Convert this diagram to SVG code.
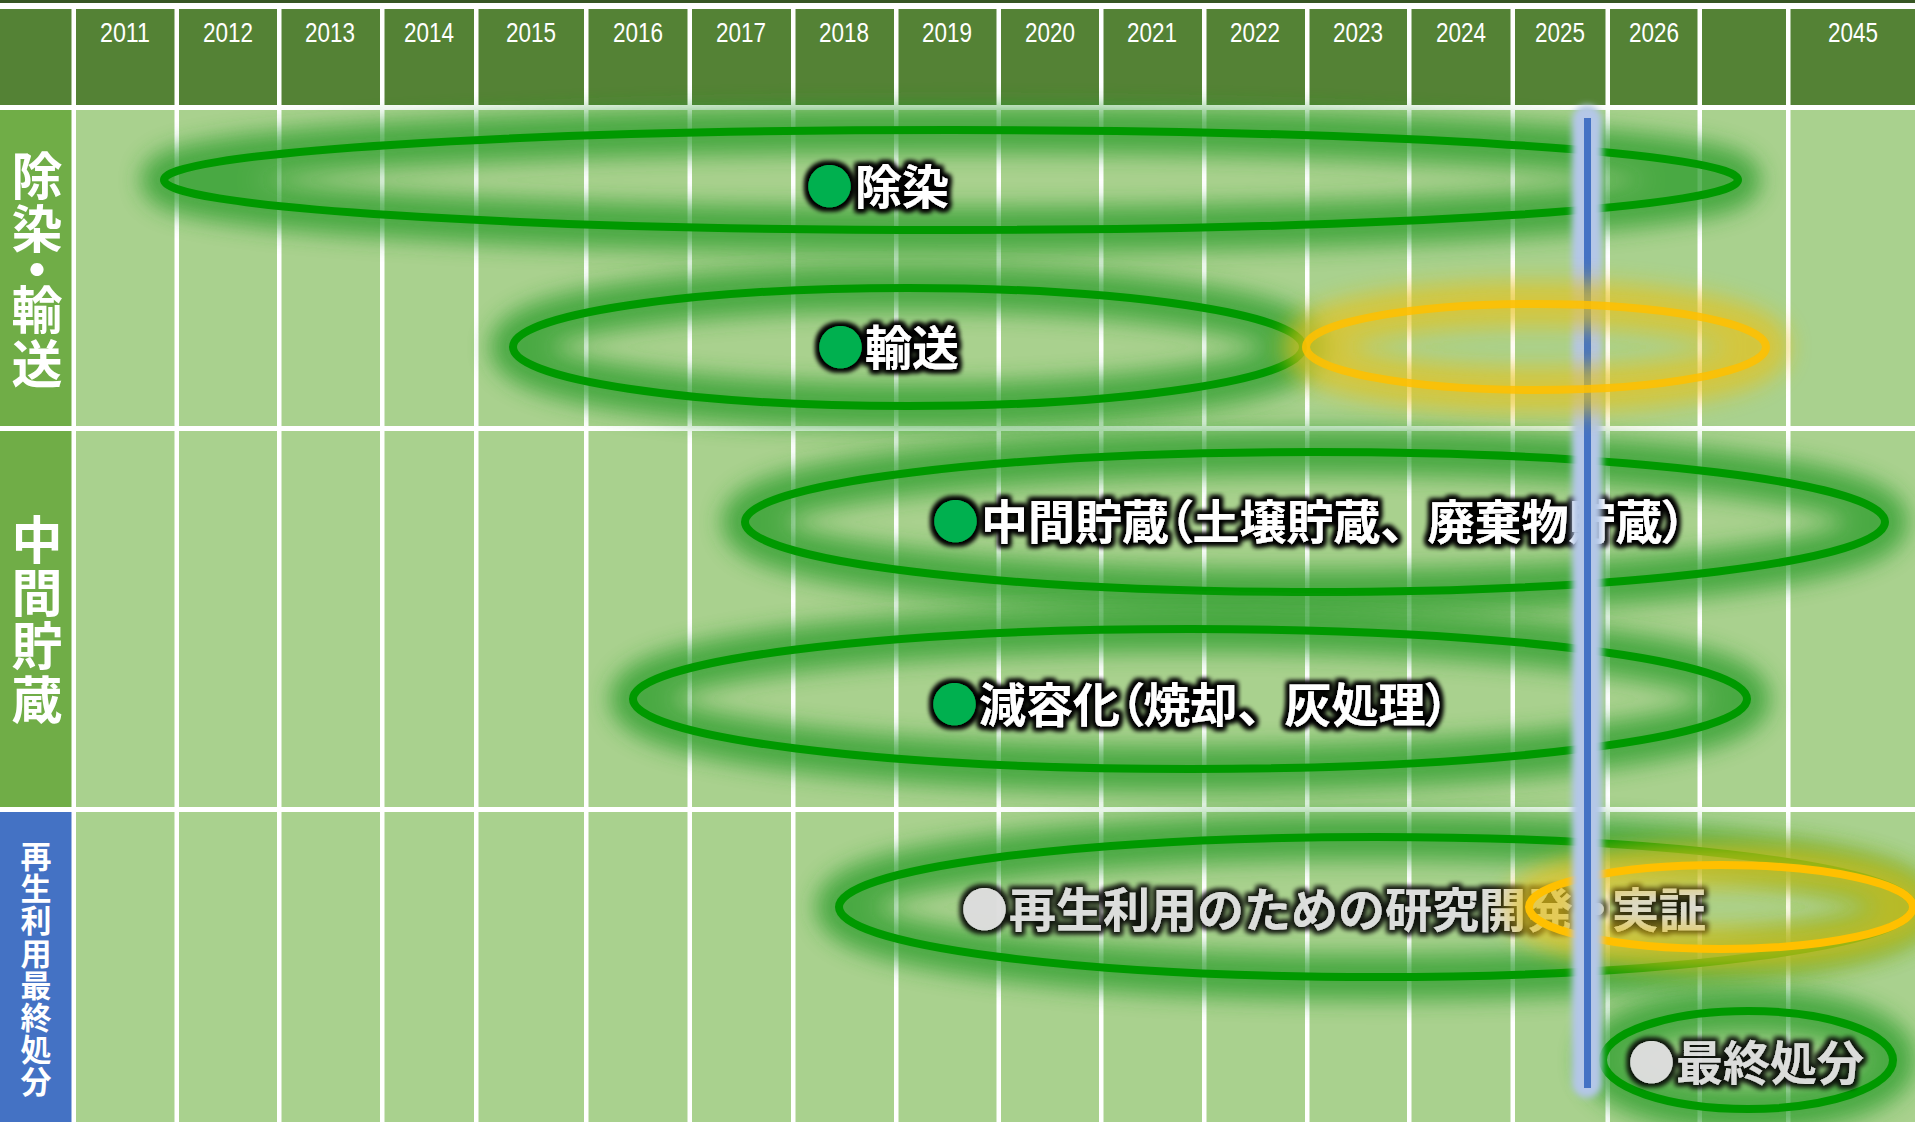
<svg xmlns="http://www.w3.org/2000/svg" width="1915" height="1122" viewBox="0 0 1915 1122">
<defs>
<style>
.hdr{fill:#548235}
.body{fill:#a9d18e}
.sideG{fill:#70ad47}
.sideB{fill:#4472c4}
.wl{fill:#fff}
.yr{font-family:"Liberation Sans",Arial,sans-serif;font-size:28px;fill:#fff;text-anchor:middle}
.side{font-family:"Noto Sans CJK JP",sans-serif;font-weight:700;fill:#fff;writing-mode:vertical-rl;font-feature-settings:"vpal"}
.s1{font-size:51px;letter-spacing:2.3px}
.s3{font-size:31px;letter-spacing:1.1px}
.eg{fill:none;stroke:#2a9c2a;stroke-width:46;opacity:.75;filter:url(#blur)}
.el{fill:none;stroke:#009900;stroke-width:8}
.og{fill:none;stroke:#e6c21a;stroke-width:46;opacity:.7;filter:url(#blur)}
.ol{fill:none;stroke:#ffc000;stroke-width:8}
.lbl{font-family:"Noto Sans CJK JP",sans-serif;font-weight:700;font-size:47px;fill:#fff;filter:url(#halo)}
.dim{fill:#fff;fill-opacity:.7}
.dotG{fill:#00b050}
.palt{font-feature-settings:"palt"}
</style>
<filter id="blur" filterUnits="userSpaceOnUse" x="-200" y="-200" width="2400" height="1600"><feGaussianBlur stdDeviation="11"/></filter>
<filter id="soft" filterUnits="userSpaceOnUse" x="1500" y="50" width="200" height="1100"><feGaussianBlur stdDeviation="3"/></filter>
<filter id="halo" x="-5%" y="-30%" width="110%" height="160%">
<feMorphology in="SourceAlpha" operator="dilate" radius="3" result="d"/>
<feGaussianBlur in="d" stdDeviation="2.5" result="b"/>
<feFlood flood-color="#000"/>
<feComposite in2="b" operator="in" result="s"/>
<feMerge><feMergeNode in="s"/><feMergeNode in="s"/><feMergeNode in="SourceGraphic"/></feMerge>
</filter>
</defs>

<g id="grid">
<rect x="0" y="0" width="1915" height="1122" fill="#fff"/>
<rect x="0" y="0" width="1915" height="3" fill="#375623"/>
<rect class="hdr" x="0" y="9" width="1915" height="96"/>
<rect class="body" x="0" y="110" width="1915" height="1012"/>
<rect class="sideG" x="0" y="110" width="72" height="316"/>
<rect class="sideG" x="0" y="431" width="72" height="376"/>
<rect class="sideB" x="0" y="812" width="72" height="310"/>
<rect class="wl" x="0" y="105" width="1915" height="5"/>
<rect class="wl" x="0" y="426" width="1915" height="5"/>
<rect class="wl" x="0" y="807" width="1915" height="5"/>
<rect class="wl" x="71.5" y="9" width="4.5" height="1113"/>
<rect class="wl" x="174.5" y="9" width="4.5" height="1113"/>
<rect class="wl" x="277" y="9" width="4.5" height="1113"/>
<rect class="wl" x="380" y="9" width="4.5" height="1113"/>
<rect class="wl" x="474" y="9" width="4.5" height="1113"/>
<rect class="wl" x="584" y="9" width="4.5" height="1113"/>
<rect class="wl" x="687.5" y="9" width="4.5" height="1113"/>
<rect class="wl" x="791" y="9" width="4.5" height="1113"/>
<rect class="wl" x="894" y="9" width="4.5" height="1113"/>
<rect class="wl" x="996.5" y="9" width="4.5" height="1113"/>
<rect class="wl" x="1099" y="9" width="4.5" height="1113"/>
<rect class="wl" x="1202" y="9" width="4.5" height="1113"/>
<rect class="wl" x="1305" y="9" width="4.5" height="1113"/>
<rect class="wl" x="1407" y="9" width="4.5" height="1113"/>
<rect class="wl" x="1510.5" y="9" width="4.5" height="1113"/>
<rect class="wl" x="1605.5" y="9" width="4.5" height="1113"/>
<rect class="wl" x="1697.5" y="9" width="4.5" height="1113"/>
<rect class="wl" x="1786" y="9" width="4.5" height="1113"/>
</g>

<g id="years">
<text class="yr" x="125" y="42" textLength="50" lengthAdjust="spacingAndGlyphs">2011</text>
<text class="yr" x="228" y="42" textLength="50" lengthAdjust="spacingAndGlyphs">2012</text>
<text class="yr" x="330" y="42" textLength="50" lengthAdjust="spacingAndGlyphs">2013</text>
<text class="yr" x="429" y="42" textLength="50" lengthAdjust="spacingAndGlyphs">2014</text>
<text class="yr" x="531" y="42" textLength="50" lengthAdjust="spacingAndGlyphs">2015</text>
<text class="yr" x="638" y="42" textLength="50" lengthAdjust="spacingAndGlyphs">2016</text>
<text class="yr" x="741" y="42" textLength="50" lengthAdjust="spacingAndGlyphs">2017</text>
<text class="yr" x="844" y="42" textLength="50" lengthAdjust="spacingAndGlyphs">2018</text>
<text class="yr" x="947" y="42" textLength="50" lengthAdjust="spacingAndGlyphs">2019</text>
<text class="yr" x="1050" y="42" textLength="50" lengthAdjust="spacingAndGlyphs">2020</text>
<text class="yr" x="1152" y="42" textLength="50" lengthAdjust="spacingAndGlyphs">2021</text>
<text class="yr" x="1255" y="42" textLength="50" lengthAdjust="spacingAndGlyphs">2022</text>
<text class="yr" x="1358" y="42" textLength="50" lengthAdjust="spacingAndGlyphs">2023</text>
<text class="yr" x="1461" y="42" textLength="50" lengthAdjust="spacingAndGlyphs">2024</text>
<text class="yr" x="1560" y="42" textLength="50" lengthAdjust="spacingAndGlyphs">2025</text>
<text class="yr" x="1654" y="42" textLength="50" lengthAdjust="spacingAndGlyphs">2026</text>
<text class="yr" x="1853" y="42" textLength="50" lengthAdjust="spacingAndGlyphs">2045</text>
</g>

<g id="row-labels">
<text id="label-decon" class="side s1" x="37" y="150">除染・輸送</text>
<text id="label-storage" class="side s1" x="37" y="514">中間貯蔵</text>
<text id="label-reuse" class="side s3" x="36" y="841">再生利用最終処分</text>
</g>

<g id="node-decon">
<ellipse class="eg" cx="951" cy="180" rx="787" ry="50"/>
<ellipse class="el" cx="951" cy="180" rx="787" ry="50"/>
<text class="lbl" y="204"><tspan class="dotG" x="806">●</tspan><tspan x="855">除染</tspan></text>
</g>

<g id="node-transport">
<ellipse class="eg" cx="908" cy="347" rx="395" ry="59"/>
<ellipse class="el" cx="908" cy="347" rx="395" ry="59"/>
<text class="lbl" y="365"><tspan class="dotG" x="817">●</tspan><tspan x="865">輸送</tspan></text>
</g>

<g id="node-storage">
<ellipse class="eg" cx="1315" cy="522" rx="570" ry="70"/>
<ellipse class="el" cx="1315" cy="522" rx="570" ry="70"/>
<text class="lbl" y="539"><tspan class="dotG" x="932">●</tspan><tspan x="981">中間貯蔵</tspan><tspan class="palt">（</tspan><tspan>土壌貯蔵、廃棄物貯蔵</tspan><tspan class="palt">）</tspan></text>
</g>

<g id="node-volume">
<ellipse class="eg" cx="1190" cy="699" rx="557" ry="70"/>
<ellipse class="el" cx="1190" cy="699" rx="557" ry="70"/>
<text class="lbl" y="722"><tspan class="dotG" x="931">●</tspan><tspan x="979">減容化</tspan><tspan class="palt">（</tspan><tspan>焼却、灰処理</tspan><tspan class="palt">）</tspan></text>
</g>

<g id="node-research">
<ellipse class="eg" cx="1376" cy="907" rx="537" ry="70"/>
<ellipse class="el" cx="1376" cy="907" rx="537" ry="70"/>
<text class="lbl dim" y="927"><tspan x="961">●</tspan><tspan x="1009">再生利用のための研究開発</tspan><tspan class="palt" x="1586">・</tspan><tspan x="1612">実証</tspan></text>
</g>

<g id="node-final">
<ellipse class="eg" cx="1748" cy="1060" rx="145" ry="49"/>
<ellipse class="el" cx="1748" cy="1060" rx="145" ry="49"/>
<text class="lbl dim" y="1080"><tspan x="1628">●</tspan><tspan x="1676">最終処分</tspan></text>
</g>

<g id="node-demo-orange">
<ellipse class="og" cx="1721" cy="907" rx="192" ry="42"/>
<ellipse class="ol" cx="1721" cy="907" rx="192" ry="42"/>
</g>

<g id="today-line">
<rect x="1572" y="105" width="30" height="993" rx="15" fill="#b4c7e7" filter="url(#soft)"/>
<rect x="1584" y="118" width="7" height="970" fill="#4472c4"/>
</g>

<g id="node-transport-orange">
<ellipse class="og" cx="1536" cy="347" rx="230" ry="43"/>
<ellipse class="ol" cx="1536" cy="347" rx="230" ry="43" opacity=".85"/>
</g>
</svg>
